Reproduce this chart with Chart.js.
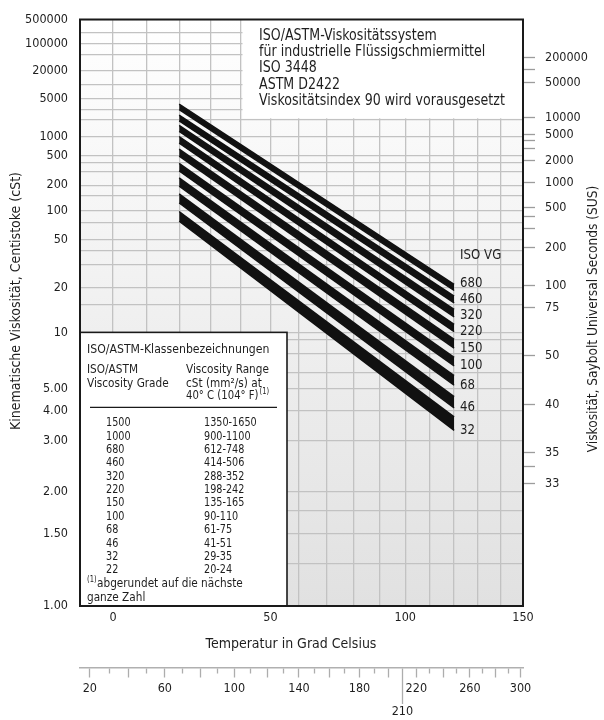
<!DOCTYPE html>
<html lang="de">
<head>
<meta charset="utf-8">
<title>ISO/ASTM-Viskositätssystem</title>
<script src="https://cdn.jsdelivr.net/npm/chart.js@4.4.1/dist/chart.umd.min.js"></script>
<style>
  html, body { margin: 0; padding: 0; background: #fff; }
  canvas { display: block; }
</style>
</head>
<body>
<canvas id="viscosityChart" width="604" height="720"></canvas>
<script>
'use strict';

/* ═══════════════════════════════════════════════════════════
 *  DATA
 * ═══════════════════════════════════════════════════════════ */
// ISO VG bands, top band first
const GRADES = [680, 460, 320, 220, 150, 100, 68, 46, 32];
// bands run from 20 °C to 120 °C
const BAND_T = [20, 120];
// upper / lower edge of each band in cSt
const VISC_20_MAX  = [3860, 2390, 1560, 1010, 636, 392, 248, 156, 98];
const VISC_20_MIN  = [3030, 1875, 1230, 790, 500, 308, 194, 122, 77];
const VISC_120_MAX = [21.1, 17.3, 14.0, 11.2, 9.1, 7.2, 5.8, 4.6, 3.75];
const VISC_120_MIN = [19.0, 15.5, 12.5, 10.1, 8.1, 6.5, 5.2, 4.1, 3.3];

// table in the lower left box
const TABLE_GRADES = ['1500', '1000', '680', '460', '320', '220', '150', '100', '68', '46', '32', '22'];
const TABLE_RANGES = ['1350-1650', '900-1100', '612-748', '414-506', '288-352', '198-242',
                      '135-165', '90-110', '61-75', '41-51', '29-35', '20-24'];

const TITLE_LINES = [
  'ISO/ASTM-Viskositätssystem',
  'für industrielle Flüssigschmiermittel',
  'ISO 3448',
  'ASTM D2422',
  'Viskositätsindex 90 wird vorausgesetzt',
];

// axes
const T_MIN_C = -9.45, T_MAX_C = 150;
const CST_MIN = 1, CST_MAX = 500000;
const C_TICKS  = [0, 10, 20, 30, 40, 50, 60, 70, 80, 90, 100, 110, 120, 130, 140, 150];
const C_LABELS = [0, 50, 100, 150];
const F_TICKS  = [20, 30, 40, 50, 60, 70, 80, 90, 100, 110, 120, 130, 140, 150, 160, 170, 180,
                  190, 200, 210, 220, 230, 240, 250, 260, 270, 280, 290, 300];
const F_LABELS = [20, 60, 100, 140, 180, 220, 260, 300];
const F_MARK   = 210;
const CST_GRID   = [1, 1.25, 1.5, 1.75, 2, 3, 4, 5, 6, 7.5, 9, 10, 15, 20, 30, 40, 50, 75, 100, 150,
                    200, 300, 400, 500, 1000, 2000, 3000, 5000, 10000, 20000, 50000, 100000, 200000, 500000];
const CST_LABELS = [1, 1.5, 2, 3, 4, 5, 10, 20, 50, 100, 200, 500, 1000, 5000, 20000, 100000, 500000];
const SUS_TICKS  = [33, 34, 35, 40, 50, 75, 100, 200, 300, 400, 500, 1000, 2000, 3000, 4000, 5000,
                    10000, 50000, 100000, 200000];
const SUS_LABELS = [33, 35, 40, 50, 75, 100, 200, 500, 1000, 2000, 5000, 10000, 50000, 200000];

const AXIS_TICKS = { x: C_TICKS, x2: F_TICKS, y: CST_GRID, y2: SUS_TICKS };

const FONT = "'Liberation Sans Narrow', 'DejaVu Sans Condensed', 'Arial Narrow', sans-serif";
const TEXT = '#1e1e1e';
const GRID = '#c2c2c2';
const SX = 0.935;           // squeeze for the plugin-drawn text (condensed look)
const font = (size) => size + 'px ' + FONT;

/* ═══════════════════════════════════════════════════════════
 *  SCALES  (ASTM D341: log T vs. log log (ν + 0.7))
 * ═══════════════════════════════════════════════════════════ */
const walther    = (v) => Math.log10(Math.log10(v + 0.7));
const waltherInv = (t) => Math.pow(10, Math.pow(10, t)) - 0.7;
const cToF = (c) => c * 1.8 + 32;

// Saybolt Universal Seconds at 100 °F (ASTM D2161)
function susFromCst(v) {
  return 4.6324 * v + (1 + 0.03264 * v) /
    ((3930.2 + 262.7 * v + 23.97 * v * v + 1.646 * v * v * v) * 1e-5);
}
function cstFromSus(s) {
  let lo = 0.5, hi = 1e6;
  for (let k = 0; k < 80; k++) {
    const mid = Math.sqrt(lo * hi);
    if (susFromCst(mid) < s) lo = mid; else hi = mid;
  }
  return Math.sqrt(lo * hi);
}

class TransformScale extends Chart.Scale {
  fwd(v) { return v; }
  inv(t) { return t; }
  determineDataLimits() {
    this.min = this.options.min;
    this.max = this.options.max;
  }
  buildTicks() {
    const vals = AXIS_TICKS[this.id] || [];
    return vals.filter(v => v >= this.min && v <= this.max).map(v => ({ value: v }));
  }
  configure() {
    super.configure();
    this._t0 = this.fwd(this.min);
    this._tr = this.fwd(this.max) - this._t0;
  }
  getPixelForValue(v) {
    if (v === null || v === undefined || isNaN(v)) return NaN;
    return this.getPixelForDecimal((this.fwd(v) - this._t0) / this._tr);
  }
  getValueForPixel(p) {
    return this.inv(this._t0 + this.getDecimalForPixel(p) * this._tr);
  }
}

class CelsiusLogScale extends TransformScale {
  static id = 'celsiusLog';
  static defaults = {};
  fwd(c) { return Math.log10(c + 273.15); }
  inv(t) { return Math.pow(10, t) - 273.15; }
}
class FahrenheitLogScale extends TransformScale {
  static id = 'fahrenheitLog';
  static defaults = {};
  fwd(f) { return Math.log10((f - 32) / 1.8 + 273.15); }
  inv(t) { return cToF(Math.pow(10, t) - 273.15); }
}
class WaltherScale extends TransformScale {
  static id = 'walther';
  static defaults = {};
  fwd(v) { return walther(v); }
  inv(t) { return waltherInv(t); }
}
class SayboltScale extends TransformScale {
  static id = 'saybolt';
  static defaults = {};
  fwd(s) { return walther(cstFromSus(s)); }
  inv(t) { return susFromCst(waltherInv(t)); }
}
Chart.register(CelsiusLogScale, FahrenheitLogScale, WaltherScale, SayboltScale);

/* ═══════════════════════════════════════════════════════════
 *  DECORATION: background, boxes, labels, frame
 * ═══════════════════════════════════════════════════════════ */
// draws squeezed text, returns its width
function txt(ctx, s, x, y, size, align) {
  ctx.save();
  ctx.font = font(size);
  ctx.textAlign = align || 'left';
  ctx.textBaseline = 'middle';
  ctx.translate(x, y);
  ctx.scale(SX, 1);
  ctx.fillText(s, 0, 0);
  const w = ctx.measureText(s).width * SX;
  ctx.restore();
  return w;
}

const decorPlugin = {
  id: 'decor',
  beforeDraw(chart) {
    const { ctx, chartArea: a } = chart;
    ctx.save();
    const g = ctx.createLinearGradient(0, a.top, 0, a.bottom);
    g.addColorStop(0, '#ffffff');
    g.addColorStop(1, '#e1e1e1');
    ctx.fillStyle = g;
    ctx.fillRect(a.left, a.top, a.right - a.left, a.bottom - a.top);
    ctx.restore();
  },
  afterDatasetsDraw(chart) {
    const { ctx, chartArea: a } = chart;
    const xs = chart.scales.x, ys = chart.scales.y;
    ctx.save();

    // title box (upper right)
    const tx = xs.getPixelForValue(40) + 1.5;
    const tb = ys.getPixelForValue(2000) - 1;
    ctx.fillStyle = '#fff';
    ctx.fillRect(tx, a.top, a.right - tx, tb - a.top);
    ctx.fillStyle = TEXT;
    TITLE_LINES.forEach((t, i) => txt(ctx, t, 259, 36 + i * 16.3, 15));

    // table box (lower left)
    const L = a.left, T = ys.getPixelForValue(10), R = L + 207;
    ctx.fillStyle = '#fff';
    ctx.fillRect(L, T, R - L, a.bottom - T);
    ctx.strokeStyle = '#1a1a1a';
    ctx.lineWidth = 1.6;
    ctx.strokeRect(L, T, R - L, a.bottom - T);
    ctx.fillStyle = TEXT;
    txt(ctx, 'ISO/ASTM-Klassenbezeichnungen', L + 7, T + 17, 13);
    txt(ctx, 'ISO/ASTM', L + 7, T + 37, 12.5);
    txt(ctx, 'Viscosity Grade', L + 7, T + 51, 12.5);
    txt(ctx, 'Viscosity Range', L + 106, T + 37, 12.5);
    txt(ctx, 'cSt (mm²/s) at', L + 106, T + 51, 12.5);
    const w40 = txt(ctx, '40° C (104° F)', L + 106, T + 63.5, 12);
    txt(ctx, '(1)', L + 106 + w40 + 1, T + 59.5, 8);
    ctx.beginPath();
    ctx.lineWidth = 1.4;
    ctx.moveTo(L + 10, T + 75);
    ctx.lineTo(L + 197, T + 75);
    ctx.stroke();
    TABLE_GRADES.forEach((g, i) => {
      const y = T + 91 + i * 13.35;
      txt(ctx, g, L + 26, y, 11.5);
      txt(ctx, TABLE_RANGES[i], L + 124, y, 11.5);
    });
    const wSup = txt(ctx, '(1)', L + 7, T + 247.5, 8);
    txt(ctx, 'abgerundet auf die nächste', L + 7 + wSup + 0.5, T + 251.5, 12.5);
    txt(ctx, 'ganze Zahl', L + 7, T + 265.5, 12.5);

    // band labels at 120 °C
    const lx = xs.getPixelForValue(BAND_T[1]) + 6;
    const ly = [];
    let next = Infinity;
    for (let i = GRADES.length - 1; i >= 0; i--) {
      ly[i] = Math.min(ys.getPixelForValue(VISC_120_MIN[i]), next - 16);
      next = ly[i];
    }
    GRADES.forEach((g, i) => txt(ctx, String(g), lx, ly[i], 14));
    txt(ctx, 'ISO VG', lx, ly[0] - 28, 14);
    ctx.restore();
  },
  afterDraw(chart) {
    const { ctx, chartArea: a } = chart;
    ctx.save();
    ctx.strokeStyle = '#1a1a1a';
    ctx.lineWidth = 2;
    ctx.strokeRect(a.left, a.top, a.right - a.left, a.bottom - a.top);

    // axis titles
    ctx.fillStyle = TEXT;
    ctx.font = font(14);
    ctx.textAlign = 'center';
    ctx.textBaseline = 'middle';
    ctx.fillText('Temperatur in Grad Celsius', 291, 644);
    ctx.translate(16, 301);
    ctx.rotate(-Math.PI / 2);
    ctx.fillText('Kinematische Viskosität, Centistoke (cSt)', 0, 0);
    ctx.setTransform(1, 0, 0, 1, 0, 0);
    ctx.translate(593, 319);
    ctx.rotate(-Math.PI / 2);
    ctx.scale(0.97, 1);
    ctx.fillText('Viskosität, Saybolt Universal Seconds (SUS)', 0, 0);
    ctx.restore();
  },
};

/* ═══════════════════════════════════════════════════════════
 *  CHART
 * ═══════════════════════════════════════════════════════════ */
const datasets = [];
GRADES.forEach((g, i) => {
  const common = {
    borderColor: '#111', backgroundColor: '#111', borderWidth: 1.4,
    pointRadius: 0, tension: 0,
  };
  datasets.push(Object.assign({
    label: 'ISO VG ' + g + ' max',
    data: [{ x: BAND_T[0], y: VISC_20_MAX[i] }, { x: BAND_T[1], y: VISC_120_MAX[i] }],
    fill: '+1',
  }, common));
  datasets.push(Object.assign({
    label: 'ISO VG ' + g + ' min',
    data: [{ x: BAND_T[0], y: VISC_20_MIN[i] }, { x: BAND_T[1], y: VISC_120_MIN[i] }],
    fill: false,
  }, common));
});

const tickFont = { family: FONT, size: 12.5 };

new Chart(document.getElementById('viscosityChart'), {
  type: 'line',
  data: { datasets },
  options: {
    responsive: false,
    animation: false,
    events: [],
    layout: { padding: { top: 17.5, left: 0, right: 0, bottom: 0 } },
    plugins: { legend: { display: false }, tooltip: { enabled: false } },
    scales: {
      x: {
        type: 'celsiusLog', position: 'bottom', weight: 0,
        min: T_MIN_C, max: T_MAX_C,
        afterFit: (s) => { s.height = 62; },
        grid: { color: GRID, lineWidth: 1.3, drawTicks: false },
        border: { display: false },
        ticks: {
          autoSkip: false, maxRotation: 0, minRotation: 0, padding: 4.5,
          color: TEXT, font: tickFont,
          callback: (v) => (C_LABELS.includes(v) ? String(v) : ''),
        },
      },
      x2: {
        type: 'fahrenheitLog', position: 'bottom', weight: 1,
        min: cToF(T_MIN_C), max: cToF(T_MAX_C),
        afterFit: (s) => { s.height = 52; },
        grid: {
          drawOnChartArea: false, drawTicks: true, tickLength: 36,
          tickColor: '#adadad', tickWidth: 1.3,
          tickBorderDash: (ctx) => {
            const v = ctx.tick ? ctx.tick.value : 0;
            if (v === F_MARK) return [];
            return v % 20 === 0 ? [9, 60] : [5, 60];
          },
        },
        border: { display: true, color: '#b0b0b0', width: 1.5 },
        ticks: {
          autoSkip: false, maxRotation: 0, minRotation: 0, padding: -26.5,
          color: TEXT, font: { family: FONT, size: 12.5, lineHeight: 1.84 },
          callback: (v) => (v === F_MARK ? ['', String(v)] : (F_LABELS.includes(v) ? String(v) : '')),
        },
      },
      y: {
        type: 'walther', position: 'left',
        min: CST_MIN, max: CST_MAX,
        afterFit: (s) => { s.width = 80; },
        grid: { color: GRID, lineWidth: 1.3, drawTicks: false },
        border: { display: false },
        ticks: {
          autoSkip: false, padding: 12, color: TEXT, font: tickFont,
          callback: (v) => (CST_LABELS.includes(v) ? (v < 10 ? v.toFixed(2) : String(v)) : ''),
        },
      },
      y2: {
        type: 'saybolt', position: 'right',
        min: susFromCst(CST_MIN), max: susFromCst(CST_MAX),
        afterFit: (s) => { s.width = 81; },
        grid: { drawOnChartArea: false, drawTicks: true, tickLength: 12, tickColor: '#9c9c9c', tickWidth: 1.3 },
        border: { display: false },
        ticks: {
          autoSkip: false, padding: 10, color: TEXT, font: tickFont,
          callback: (v) => (SUS_LABELS.includes(v) ? String(v) : ''),
        },
      },
    },
  },
  plugins: [decorPlugin],
});
</script>
</body>
</html>
